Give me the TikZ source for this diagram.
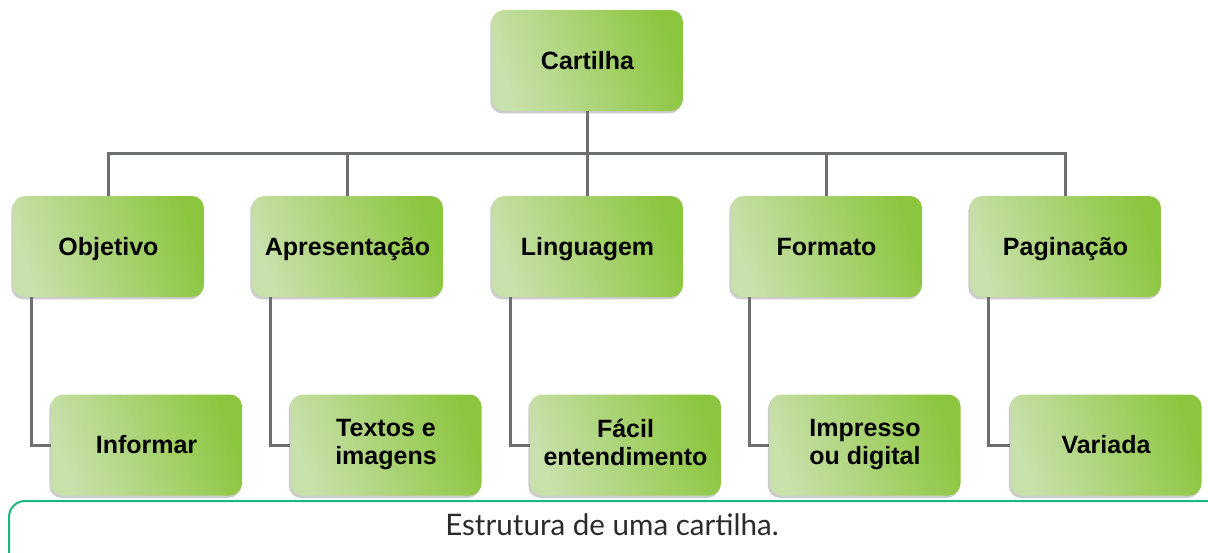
\documentclass[tikz,border=0pt]{standalone}
\usepackage{fontspec}
\setmainfont{Liberation Sans}
\newfontfamily\boxfont{Liberation Sans}
\newfontfamily\capfont{Lato}
\usepackage{xcolor}
\usepackage{tikz}
\usetikzlibrary{positioning,calc,shadows}
\definecolor{CartDark}{HTML}{8CC63F}
\definecolor{CartLight}{HTML}{C8E0AA}
\definecolor{CartLine}{HTML}{6D6E71}
\definecolor{CartTeal}{HTML}{1FB57F}
\definecolor{CartText}{HTML}{2B2B2B}
\newcommand{\boxstrut}{\rule[-3pt]{0pt}{14.5pt}}

\begin{document}
\begin{tikzpicture}[x=0.5pt,y=-0.5pt,
  box/.style={rounded corners=6pt,minimum width=95.5pt,minimum height=50.5pt,
    left color=CartLight,right color=CartDark,shading angle=110,align=center,
    font=\boxfont\fontsize{12.5}{14}\selectfont\bfseries,
    execute at begin node=\boxstrut,execute at end node=\boxstrut,
    drop shadow={shadow xshift=-0.8pt,shadow yshift=-1.2pt,opacity=0.2,fill=black}},
  link/.style={draw=CartLine,line width=1.5pt}]
\clip (0,0) rectangle (1208,552);
% top
\node[box] (root) at (587.5,60.5) {Cartilha};
% first row
\node[box] (obj) at (108.5,246.5) {Objetivo};
\node[box] (apr) at (347.5,246.5) {Apresentação};
\node[box] (lin) at (587.5,246.5) {Linguagem};
\node[box] (fmt) at (826.5,246.5) {Formato};
\node[box] (pag) at (1065.5,246.5) {Paginação};
% second row
\node[box] (inf) at (146.5,445) {Informar};
\node[box] (txt) at (386,445) {Textos e\\imagens};
\node[box] (fac) at (625.5,445) {Fácil\\entendimento};
\node[box] (imp) at (865,445) {Impresso\\ou digital};
\node[box] (var) at (1106,445) {Variada};
% connectors
\foreach \c in {obj,apr,lin,fmt,pag}
  \draw[link] (root.south) -- ++(0,42) -| (\c.north);
\foreach \p/\c in {obj/inf,apr/txt,lin/fac,fmt/imp,pag/var}
  \draw[link] ([xshift=9.5pt]\p.south west) |- (\c.west);
% caption
\draw[CartTeal,line width=1pt,rounded corners=8pt] (9,501) rectangle (1260,600);
\node[font=\capfont\fontsize{14.8}{17}\selectfont,text=CartText,anchor=base] (cap) at (612,535) {Estrutura de uma cartilha.};
\end{tikzpicture}
\end{document}
